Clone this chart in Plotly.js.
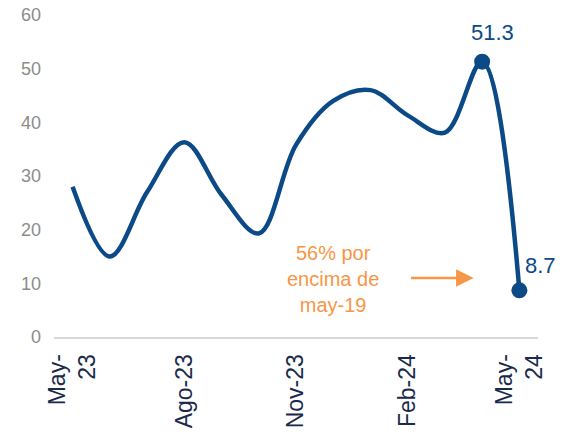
<!DOCTYPE html>
<html>
<head>
<meta charset="utf-8">
<script src="https://cdn.plot.ly/plotly-3.0.1.min.js"></script>
<style>html,body{margin:0;padding:0;background:#fff;}#chart{width:566px;height:439px;}</style>
</head>
<body>
<div id="chart"></div>
<script>
var months = ["May-23","Jun-23","Jul-23","Ago-23","Sep-23","Oct-23","Nov-23","Dic-23","Ene-24","Feb-24","Mar-24","Abr-24","May-24"];
var values = [28.0, 15.0, 27.0, 36.3, 26.5, 19.3, 35.8, 44.0, 46.0, 41.3, 38.1, 51.3, 8.7];
var tickMonths = ["May-23","Ago-23","Nov-23","Feb-24","May-24"];
var tickLabels = ["May-<br>23","Ago-23","Nov-23","Feb-24","May-<br>24"];
var markedMonths = ["Abr-24","May-24"];
var markedValues = [51.3, 8.7];
var noteText = "56% por<br>encima de<br>may-19";

var blue = "#0b4a86";
var orange = "#f79646";

var traces = [
  {x: months, y: values, type: "scatter", mode: "lines",
   line: {color: blue, width: 4.5, shape: "spline", smoothing: 1},
   hoverinfo: "none"},
  {x: markedMonths, y: markedValues, type: "scatter", mode: "markers",
   marker: {color: blue, size: 16}, hoverinfo: "none"}
];

var layout = {
  width: 566, height: 439,
  margin: {l: 54, r: 28, t: 15, b: 102},
  paper_bgcolor: "#fff", plot_bgcolor: "#fff",
  showlegend: false,
  font: {family: "Liberation Sans, Arial, sans-serif"},
  xaxis: {type: "category", categoryorder: "array", categoryarray: months,
    range: [-0.5, 12.5], tickmode: "array", tickvals: tickMonths, ticktext: tickLabels,
    tickangle: -90, tickfont: {size: 23, color: "#1a2a4a"}, ticklabelstandoff: 6,
    showgrid: false, zeroline: false, showline: true, linecolor: "#d9d9d9", linewidth: 2,
    ticks: "", fixedrange: true},
  yaxis: {range: [0, 60], tickvals: [0,10,20,30,40,50,60],
    tickfont: {size: 18, color: "#8c8c8c"}, ticklabelstandoff: 12, showgrid: false, zeroline: false,
    showline: false, ticks: "", fixedrange: true},
  annotations: [
    {x: markedMonths[0], y: markedValues[0], text: String(markedValues[0]), showarrow: false,
     yshift: 29, xshift: 10, font: {size: 22, color: blue}},
    {x: markedMonths[1], y: markedValues[1], text: String(markedValues[1]), showarrow: false,
     xshift: 21, yshift: 25, font: {size: 22, color: blue}},
    {x: 7.0, y: 10.8, xref: "x", yref: "y", text: noteText, showarrow: false,
     align: "center", font: {size: 20, color: orange}},
    {x: 10.77, y: 11.0, xref: "x", yref: "y", text: "", showarrow: true,
     ax: -64, ay: 0, arrowcolor: orange, arrowwidth: 2.5, arrowhead: 2, arrowsize: 1.4}
  ]
};

Plotly.newPlot("chart", traces, layout, {displayModeBar: false, staticPlot: true});
</script>
</body>
</html>
